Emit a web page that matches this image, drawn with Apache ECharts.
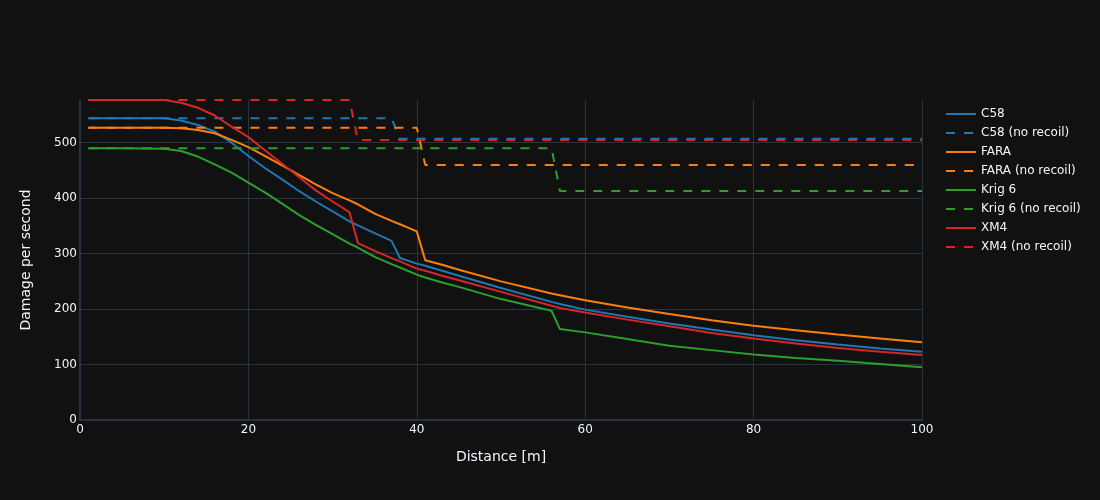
<!DOCTYPE html>
<html>
<head>
<meta charset="utf-8">
<script src="https://cdn.jsdelivr.net/npm/echarts@6/dist/echarts.min.js"></script>
<style>
html,body{margin:0;padding:0;background:#111111;}
#c{width:1100px;height:500px;}
</style>
</head>
<body>
<div id="c"></div>
<script>
const distances = [1, 5, 10, 12, 14, 16, 18, 20, 22, 24, 26, 28, 30, 32, 33, 35, 37, 38, 40, 41, 43, 45, 50, 56, 57, 60, 65, 70, 75, 80, 85, 90, 95, 100];

const c58 = [544, 544, 544, 540, 532, 520, 500, 476, 454, 434, 413, 394, 376, 358, 351, 337, 323, 292, 282, 278, 269, 260, 238, 213, 209, 199, 186, 174, 163, 153, 144, 136, 129, 123];
const c58NoRecoil = [544, 544, 544, 544, 544, 544, 544, 544, 544, 544, 544, 544, 544, 544, 544, 544, 544, 507, 507, 507, 507, 507, 507, 507, 507, 507, 507, 507, 507, 507, 507, 507, 507, 507];

const fara = [527, 527, 527, 526, 523, 517, 505, 492, 476, 459, 442, 425, 409, 396, 389, 372, 359, 353, 340, 288, 280, 271, 250, 228, 225, 216, 203, 191, 180, 170, 162, 154, 147, 140];
const faraNoRecoil = [527, 527, 527, 527, 527, 527, 527, 527, 527, 527, 527, 527, 527, 527, 527, 527, 527, 527, 527, 460, 460, 460, 460, 460, 460, 460, 460, 460, 460, 460, 460, 460, 460, 460];

const krig6 = [490, 490, 489, 485, 475, 461, 446, 428, 410, 390, 370, 352, 335, 318, 311, 294, 281, 275, 262, 257, 248, 240, 218, 197, 164, 158, 146, 134, 126, 118, 112, 107, 101, 95];
const krig6NoRecoil = [490, 490, 490, 490, 490, 490, 490, 490, 490, 490, 490, 490, 490, 490, 490, 490, 490, 490, 490, 490, 490, 490, 490, 490, 413, 413, 413, 413, 413, 413, 413, 413, 413, 413];

const xm4 = [577, 577, 577, 572, 563, 549, 529, 510, 486, 462, 438, 414, 394, 375, 319, 305, 292, 286, 273, 269, 260, 252, 231, 206, 202, 194, 181, 169, 157, 147, 138, 130, 123, 117];
const xm4NoRecoil = [577, 577, 577, 577, 577, 577, 577, 577, 577, 577, 577, 577, 577, 577, 505, 505, 505, 505, 505, 505, 505, 505, 505, 505, 505, 505, 505, 505, 505, 505, 505, 505, 505, 505];

const xTicks = [0, 20, 40, 60, 80, 100];
const yTicks = [0, 100, 200, 300, 400, 500];

const seriesDefs = [
  {name: 'C58', data: c58, color: '#1f77b4', dash: false},
  {name: 'C58 (no recoil)', data: c58NoRecoil, color: '#1f77b4', dash: true},
  {name: 'FARA', data: fara, color: '#ff7f0e', dash: false},
  {name: 'FARA (no recoil)', data: faraNoRecoil, color: '#ff7f0e', dash: true},
  {name: 'Krig 6', data: krig6, color: '#2ca02c', dash: false},
  {name: 'Krig 6 (no recoil)', data: krig6NoRecoil, color: '#2ca02c', dash: true},
  {name: 'XM4', data: xm4, color: '#d62728', dash: false},
  {name: 'XM4 (no recoil)', data: xm4NoRecoil, color: '#d62728', dash: true}
];

const FONT = 'DejaVu Sans';
const TXT = '#f2f5fa';
const GRID = '#283442';

const chart = echarts.init(document.getElementById('c'), null, {renderer: 'canvas'});
chart.setOption({
  backgroundColor: '#111111',
  animation: false,
  textStyle: {fontFamily: FONT, color: TXT},
  grid: {left: 80, right: 178, top: 100, bottom: 80, containLabel: false},
  legend: {
    orient: 'vertical',
    left: 945,
    top: 108,
    padding: 0,
    itemWidth: 30,
    itemHeight: 14,
    itemGap: 7,
    itemStyle: {opacity: 0, borderWidth: 0},
    textStyle: {color: TXT, fontSize: 12, fontFamily: FONT},
    data: seriesDefs.map(s => s.name)
  },
  xAxis: {
    type: 'value',
    min: xTicks[0],
    max: xTicks[xTicks.length - 1],
    interval: 20,
    name: 'Distance [m]',
    nameLocation: 'middle',
    nameGap: 30,
    nameTextStyle: {color: TXT, fontSize: 14, fontFamily: FONT},
    axisLine: {show: true, lineStyle: {color: GRID, width: 2}},
    axisTick: {show: false},
    axisLabel: {color: TXT, fontSize: 12, fontFamily: FONT, margin: 4},
    splitLine: {show: true, lineStyle: {color: GRID, width: 1}}
  },
  yAxis: {
    type: 'value',
    min: yTicks[0],
    max: 577,
    interval: 100,
    name: 'Damage per second',
    nameLocation: 'middle',
    nameGap: 47,
    nameTextStyle: {color: TXT, fontSize: 14, fontFamily: FONT},
    axisLine: {show: true, lineStyle: {color: GRID, width: 2}},
    axisTick: {show: false},
    axisLabel: {color: TXT, fontSize: 12, fontFamily: FONT, margin: 3, showMaxLabel: false},
    splitLine: {show: true, showMaxLine: false, lineStyle: {color: GRID, width: 1}}
  },
  series: seriesDefs.map(s => ({
    name: s.name,
    type: 'line',
    data: distances.map((d, i) => [d, s.data[i]]),
    symbol: 'none',
    clip: false,
    color: s.color,
    lineStyle: {color: s.color, width: 2, type: s.dash ? [9, 9] : 'solid'},
    emphasis: {disabled: true}
  }))
});
</script>
</body>
</html>
